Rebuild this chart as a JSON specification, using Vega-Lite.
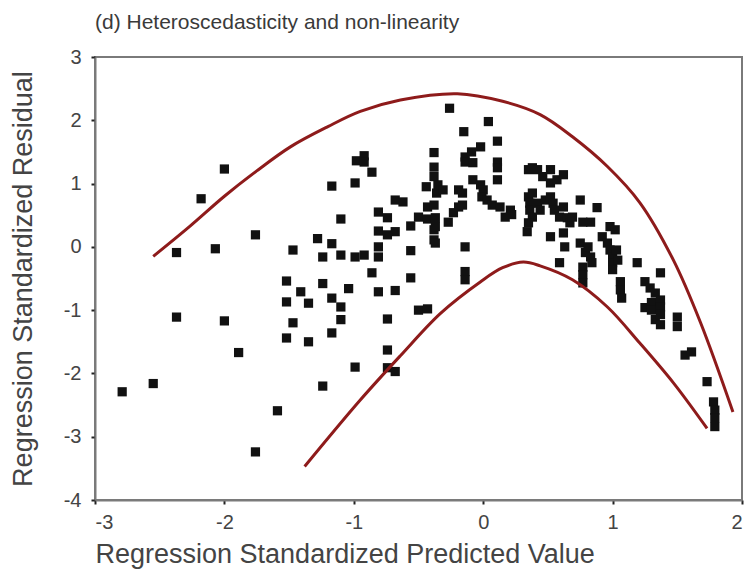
{
  "$schema": "https://vega.github.io/schema/vega-lite/v6.json",
  "width": 647,
  "height": 443,
  "autosize": {"type": "none"},
  "padding": {"left": 95, "top": 57, "right": 14, "bottom": 84},
  "background": "white",
  "title": {
    "text": "(d) Heteroscedasticity and non-linearity",
    "anchor": "start",
    "frame": "group",
    "font": "Liberation Sans",
    "fontSize": 21,
    "fontWeight": "normal",
    "color": "#3a3a3a",
    "offset": 14
  },
  "config": {
    "view": {"stroke": "#7a7a7a", "strokeWidth": 2},
    "axis": {
      "labelFont": "Liberation Sans",
      "titleFont": "Liberation Sans",
      "labelColor": "#444444",
      "titleColor": "#444444",
      "labelFontSize": 20,
      "titleFontSize": 27,
      "titleFontWeight": "normal",
      "domainColor": "#7a7a7a",
      "domainWidth": 2,
      "tickColor": "#222222",
      "tickWidth": 2,
      "tickSize": 4,
      "grid": false,
      "labelExpr": "'' + datum.value"
    }
  },
  "datasets": {
    "residuals": [
      {"pred": -2.79, "resid": -2.29}, {"pred": -2.55, "resid": -2.16},
      {"pred": -2.37, "resid": -0.09}, {"pred": -2.37, "resid": -1.11},
      {"pred": -2.18, "resid": 0.76}, {"pred": -2.07, "resid": -0.03},
      {"pred": -2.0, "resid": 1.23}, {"pred": -2.0, "resid": -1.17},
      {"pred": -1.89, "resid": -1.67}, {"pred": -1.76, "resid": 0.19},
      {"pred": -1.76, "resid": -3.24}, {"pred": -1.59, "resid": -2.59},
      {"pred": -1.52, "resid": -0.54}, {"pred": -1.52, "resid": -0.87},
      {"pred": -1.52, "resid": -1.44}, {"pred": -1.47, "resid": -0.05},
      {"pred": -1.47, "resid": -1.2}, {"pred": -1.41, "resid": -0.71},
      {"pred": -1.35, "resid": -0.89}, {"pred": -1.35, "resid": -1.5},
      {"pred": -1.28, "resid": 0.13}, {"pred": -1.24, "resid": -0.16},
      {"pred": -1.24, "resid": -0.58}, {"pred": -1.24, "resid": -2.2},
      {"pred": -1.17, "resid": 0.96}, {"pred": -1.17, "resid": 0.05},
      {"pred": -1.17, "resid": -0.81}, {"pred": -1.17, "resid": -1.36},
      {"pred": -1.1, "resid": 0.44}, {"pred": -1.1, "resid": -0.13},
      {"pred": -1.1, "resid": -0.95}, {"pred": -1.1, "resid": -1.15},
      {"pred": -1.04, "resid": -0.66}, {"pred": -0.99, "resid": 1.01},
      {"pred": -0.99, "resid": -0.16}, {"pred": -0.99, "resid": -1.9},
      {"pred": -0.98, "resid": 1.36}, {"pred": -0.92, "resid": 1.44},
      {"pred": -0.92, "resid": 1.34}, {"pred": -0.92, "resid": -0.13},
      {"pred": -0.86, "resid": 1.18}, {"pred": -0.86, "resid": -0.41},
      {"pred": -0.81, "resid": 0.55}, {"pred": -0.81, "resid": 0.25},
      {"pred": -0.81, "resid": 0.0}, {"pred": -0.81, "resid": -0.16},
      {"pred": -0.81, "resid": -0.71}, {"pred": -0.74, "resid": 0.46},
      {"pred": -0.74, "resid": 0.19}, {"pred": -0.74, "resid": -1.14},
      {"pred": -0.74, "resid": -1.63}, {"pred": -0.74, "resid": -1.91},
      {"pred": -0.68, "resid": 0.74}, {"pred": -0.68, "resid": 0.24},
      {"pred": -0.68, "resid": -0.69}, {"pred": -0.68, "resid": -1.97},
      {"pred": -0.62, "resid": 0.71}, {"pred": -0.56, "resid": 0.33},
      {"pred": -0.56, "resid": -0.06}, {"pred": -0.56, "resid": -0.49},
      {"pred": -0.5, "resid": 0.47}, {"pred": -0.5, "resid": -1.0},
      {"pred": -0.44, "resid": 0.95}, {"pred": -0.43, "resid": 0.44},
      {"pred": -0.43, "resid": 0.63}, {"pred": -0.43, "resid": -0.98},
      {"pred": -0.38, "resid": 0.66}, {"pred": -0.38, "resid": 0.27},
      {"pred": -0.38, "resid": 0.11}, {"pred": -0.38, "resid": 1.49},
      {"pred": -0.38, "resid": 1.26}, {"pred": -0.38, "resid": 1.11},
      {"pred": -0.36, "resid": 0.85}, {"pred": -0.35, "resid": 0.98},
      {"pred": -0.31, "resid": 0.9}, {"pred": -0.37, "resid": 0.46},
      {"pred": -0.37, "resid": 0.32}, {"pred": -0.37, "resid": 0.06},
      {"pred": -0.26, "resid": 2.19}, {"pred": -0.27, "resid": 0.39},
      {"pred": -0.23, "resid": 0.54}, {"pred": -0.19, "resid": 0.9},
      {"pred": -0.19, "resid": 0.63}, {"pred": -0.16, "resid": 0.85},
      {"pred": -0.16, "resid": 0.66}, {"pred": -0.15, "resid": 1.82},
      {"pred": -0.14, "resid": 1.42}, {"pred": -0.14, "resid": 1.34},
      {"pred": -0.14, "resid": 0.0}, {"pred": -0.14, "resid": -0.39},
      {"pred": -0.14, "resid": -0.52}, {"pred": -0.09, "resid": 1.5},
      {"pred": -0.08, "resid": 1.33}, {"pred": -0.08, "resid": 1.06},
      {"pred": -0.02, "resid": 1.58}, {"pred": -0.02, "resid": 0.98},
      {"pred": 0.0, "resid": 0.9}, {"pred": -0.01, "resid": 0.79},
      {"pred": 0.03, "resid": 0.74}, {"pred": 0.04, "resid": 1.98},
      {"pred": 0.07, "resid": 0.66}, {"pred": 0.11, "resid": 1.67},
      {"pred": 0.11, "resid": 1.34}, {"pred": 0.11, "resid": 1.25},
      {"pred": 0.11, "resid": 1.06}, {"pred": 0.13, "resid": 0.63},
      {"pred": 0.17, "resid": 0.47}, {"pred": 0.21, "resid": 0.58},
      {"pred": 0.22, "resid": 0.51}, {"pred": 0.34, "resid": 0.24},
      {"pred": 0.35, "resid": 1.22}, {"pred": 0.38, "resid": 1.25},
      {"pred": 0.35, "resid": 0.79}, {"pred": 0.36, "resid": 0.69},
      {"pred": 0.36, "resid": 0.58}, {"pred": 0.38, "resid": 0.47},
      {"pred": 0.35, "resid": 0.38}, {"pred": 0.38, "resid": 0.85},
      {"pred": 0.42, "resid": 1.22}, {"pred": 0.42, "resid": 0.69},
      {"pred": 0.44, "resid": 0.58}, {"pred": 0.46, "resid": 1.11},
      {"pred": 0.48, "resid": 0.74}, {"pred": 0.52, "resid": 1.22},
      {"pred": 0.52, "resid": 1.01}, {"pred": 0.52, "resid": 0.79},
      {"pred": 0.52, "resid": 0.16}, {"pred": 0.54, "resid": 0.69},
      {"pred": 0.55, "resid": 0.58}, {"pred": 0.57, "resid": 1.06},
      {"pred": 0.59, "resid": 0.47}, {"pred": 0.59, "resid": -0.25},
      {"pred": 0.62, "resid": 1.14}, {"pred": 0.62, "resid": 0.63},
      {"pred": 0.62, "resid": 0.22}, {"pred": 0.63, "resid": 0.0},
      {"pred": 0.65, "resid": 0.46}, {"pred": 0.67, "resid": 0.38},
      {"pred": 0.69, "resid": 0.47}, {"pred": 0.75, "resid": 0.74},
      {"pred": 0.75, "resid": 0.06}, {"pred": 0.77, "resid": 0.39},
      {"pred": 0.77, "resid": -0.32}, {"pred": 0.77, "resid": -0.44},
      {"pred": 0.77, "resid": -0.57}, {"pred": 0.79, "resid": -0.09},
      {"pred": 0.81, "resid": 0.0}, {"pred": 0.83, "resid": 0.39},
      {"pred": 0.83, "resid": -0.16}, {"pred": 0.84, "resid": -0.25},
      {"pred": 0.88, "resid": 0.62}, {"pred": 0.92, "resid": 0.16},
      {"pred": 0.96, "resid": 0.06}, {"pred": 0.98, "resid": 0.32},
      {"pred": 0.98, "resid": -0.05}, {"pred": 1.0, "resid": -0.16},
      {"pred": 1.0, "resid": -0.25}, {"pred": 1.0, "resid": -0.36},
      {"pred": 1.02, "resid": 0.27}, {"pred": 1.03, "resid": -0.05},
      {"pred": 1.04, "resid": -0.21}, {"pred": 1.06, "resid": -0.55},
      {"pred": 1.06, "resid": -0.68}, {"pred": 1.07, "resid": -0.81},
      {"pred": 1.19, "resid": -0.25}, {"pred": 1.25, "resid": -0.55},
      {"pred": 1.25, "resid": -0.96}, {"pred": 1.29, "resid": -0.65},
      {"pred": 1.3, "resid": -0.88}, {"pred": 1.3, "resid": -1.0},
      {"pred": 1.33, "resid": -0.73}, {"pred": 1.33, "resid": -1.15},
      {"pred": 1.37, "resid": -0.41}, {"pred": 1.37, "resid": -0.84},
      {"pred": 1.37, "resid": -0.95}, {"pred": 1.37, "resid": -1.07},
      {"pred": 1.37, "resid": -1.23}, {"pred": 1.5, "resid": -1.11},
      {"pred": 1.5, "resid": -1.26}, {"pred": 1.56, "resid": -1.71},
      {"pred": 1.61, "resid": -1.66}, {"pred": 1.73, "resid": -2.13},
      {"pred": 1.78, "resid": -2.45}, {"pred": 1.79, "resid": -2.58},
      {"pred": 1.79, "resid": -2.7}, {"pred": 1.79, "resid": -2.84}
    ],
    "bounds": [
      {"curve": "upper", "pred": -2.55, "resid": -0.15},
      {"curve": "upper", "pred": -2.27, "resid": 0.32},
      {"curve": "upper", "pred": -2.0, "resid": 0.8},
      {"curve": "upper", "pred": -1.75, "resid": 1.2},
      {"curve": "upper", "pred": -1.49, "resid": 1.58},
      {"curve": "upper", "pred": -1.2, "resid": 1.9},
      {"curve": "upper", "pred": -0.95, "resid": 2.14},
      {"curve": "upper", "pred": -0.64, "resid": 2.32},
      {"curve": "upper", "pred": -0.2, "resid": 2.42},
      {"curve": "upper", "pred": 0.15, "resid": 2.3},
      {"curve": "upper", "pred": 0.44, "resid": 2.09},
      {"curve": "upper", "pred": 0.69, "resid": 1.74},
      {"curve": "upper", "pred": 0.96, "resid": 1.27},
      {"curve": "upper", "pred": 1.21, "resid": 0.7},
      {"curve": "upper", "pred": 1.47, "resid": -0.21},
      {"curve": "upper", "pred": 1.68, "resid": -1.2},
      {"curve": "upper", "pred": 1.93, "resid": -2.61},
      {"curve": "lower", "pred": -1.38, "resid": -3.47},
      {"curve": "lower", "pred": -0.95, "resid": -2.42},
      {"curve": "lower", "pred": -0.64, "resid": -1.72},
      {"curve": "lower", "pred": -0.33, "resid": -1.05},
      {"curve": "lower", "pred": -0.02, "resid": -0.55},
      {"curve": "lower", "pred": 0.15, "resid": -0.33},
      {"curve": "lower", "pred": 0.31, "resid": -0.24},
      {"curve": "lower", "pred": 0.44, "resid": -0.3},
      {"curve": "lower", "pred": 0.69, "resid": -0.52},
      {"curve": "lower", "pred": 0.96, "resid": -0.95},
      {"curve": "lower", "pred": 1.21, "resid": -1.52},
      {"curve": "lower", "pred": 1.47, "resid": -2.15},
      {"curve": "lower", "pred": 1.73, "resid": -2.87}
    ]
  },
  "layer": [
    {
      "data": {"name": "residuals"},
      "mark": {"type": "point", "shape": "square", "filled": true, "size": 85, "color": "#111111", "opacity": 1},
      "encoding": {
        "x": {
          "field": "pred", "type": "quantitative",
          "scale": {"domain": [-3, 2], "nice": false, "zero": false},
          "axis": {
            "values": [-3, -2, -1, 0, 1, 2],
            "title": "Regression Standardized Predicted Value",
            "titleAnchor": "start",
            "titlePadding": 9,
            "labelPadding": 8
          }
        },
        "y": {
          "field": "resid", "type": "quantitative",
          "scale": {"domain": [-4, 3], "nice": false, "zero": false},
          "axis": {
            "values": [-4, -3, -2, -1, 0, 1, 2, 3],
            "title": "Regression Standardized Residual",
            "titlePadding": 26,
            "labelPadding": 10
          }
        }
      }
    },
    {
      "data": {"name": "bounds"},
      "mark": {"type": "line", "color": "#8e1b1b", "strokeWidth": 3, "interpolate": "catmull-rom"},
      "encoding": {
        "x": {"field": "pred", "type": "quantitative"},
        "y": {"field": "resid", "type": "quantitative"},
        "detail": {"field": "curve"}
      }
    }
  ]
}
